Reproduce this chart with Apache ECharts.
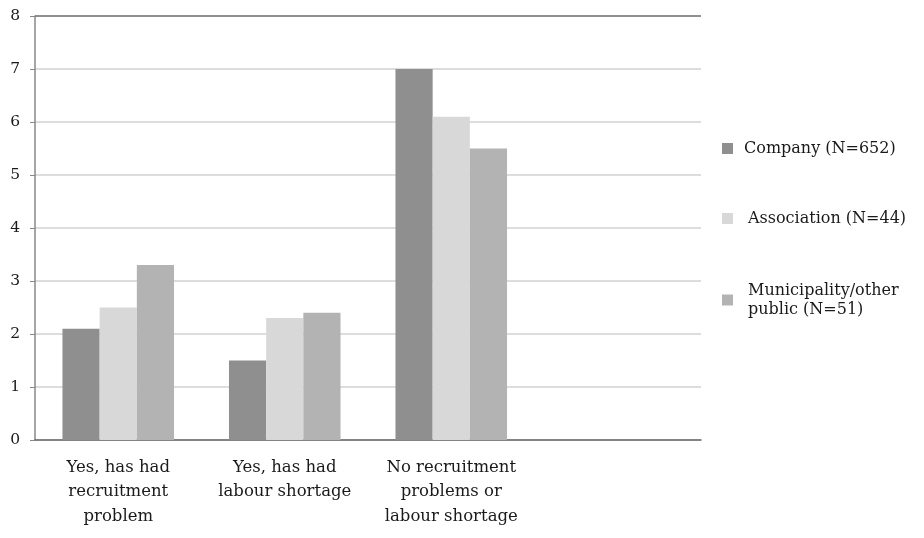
<!DOCTYPE html>
<html><head><meta charset="utf-8">
<script src="https://cdn.jsdelivr.net/npm/echarts@6/dist/echarts.min.js"></script>
<style>html,body{margin:0;padding:0;background:#fff}#c{width:924px;height:538px}</style>
</head><body><div id="c"></div>
<script>
var categories = ["Yes, has had\nrecruitment\nproblem", "Yes, has had\nlabour shortage", "No recruitment\nproblems or\nlabour shortage", ""];
var seriesNames = ["Company (N=652)", "Association (N=44)", "Municipality/other\npublic (N=51)"];
var company = [2.1, 1.5, 7.0, null];
var association = [2.5, 2.3, 6.1, null];
var municipality = [3.3, 2.4, 5.5, null];
var colors = ["#8f8f8f", "#d8d8d8", "#b3b3b3"];
var FONT = "DejaVu Serif";
var chart = echarts.init(document.getElementById('c'));
function legendAt(i, top, left, pad) {
  return {
    data: [seriesNames[i]], orient: 'vertical', left: left, top: top,
    itemWidth: 11, itemHeight: 11, icon: 'rect', selectedMode: false,
    textStyle: {fontFamily: FONT, fontSize: 16, color: '#1a1a1a', lineHeight: 19, padding: [0, 0, 0, pad]}
  };
}
chart.setOption({
  animation: false,
  textStyle: {fontFamily: FONT},
  color: colors,
  legend: [legendAt(0, 134, 717, 6), legendAt(1, 204, 717, 10), legendAt(2, 276, 717, 10)],
  grid: {left: 35, right: 223, top: 16, bottom: 98},
  xAxis: {
    type: 'category', data: categories,
    axisLine: {lineStyle: {color: '#666', width: 1.5}},
    axisTick: {show: false},
    axisLabel: {fontFamily: FONT, fontSize: 16.5, color: '#1a1a1a', lineHeight: 24.5, margin: 15, interval: 0}
  },
  yAxis: {
    type: 'value', min: 0, max: 8, interval: 1,
    axisLine: {show: true, lineStyle: {color: '#888', width: 1.5}},
    axisTick: {show: true, length: 5, lineStyle: {color: '#888'}},
    splitLine: {lineStyle: {color: '#d2d2d2', width: 1.5}},
    axisLabel: {fontFamily: FONT, fontSize: 15.5, color: '#1a1a1a', margin: 15}
  },
  series: [
    {name: seriesNames[0], type: 'bar', data: company, barGap: '0%', barCategoryGap: '33%',
     markLine: {silent: true, symbol: 'none', label: {show: false},
       lineStyle: {color: '#777', type: 'solid', width: 1.5}, data: [{yAxis: 8}]}},
    {name: seriesNames[1], type: 'bar', data: association, barGap: '0%', barCategoryGap: '33%'},
    {name: seriesNames[2], type: 'bar', data: municipality, barGap: '0%', barCategoryGap: '33%'}
  ]
});
</script></body></html>
